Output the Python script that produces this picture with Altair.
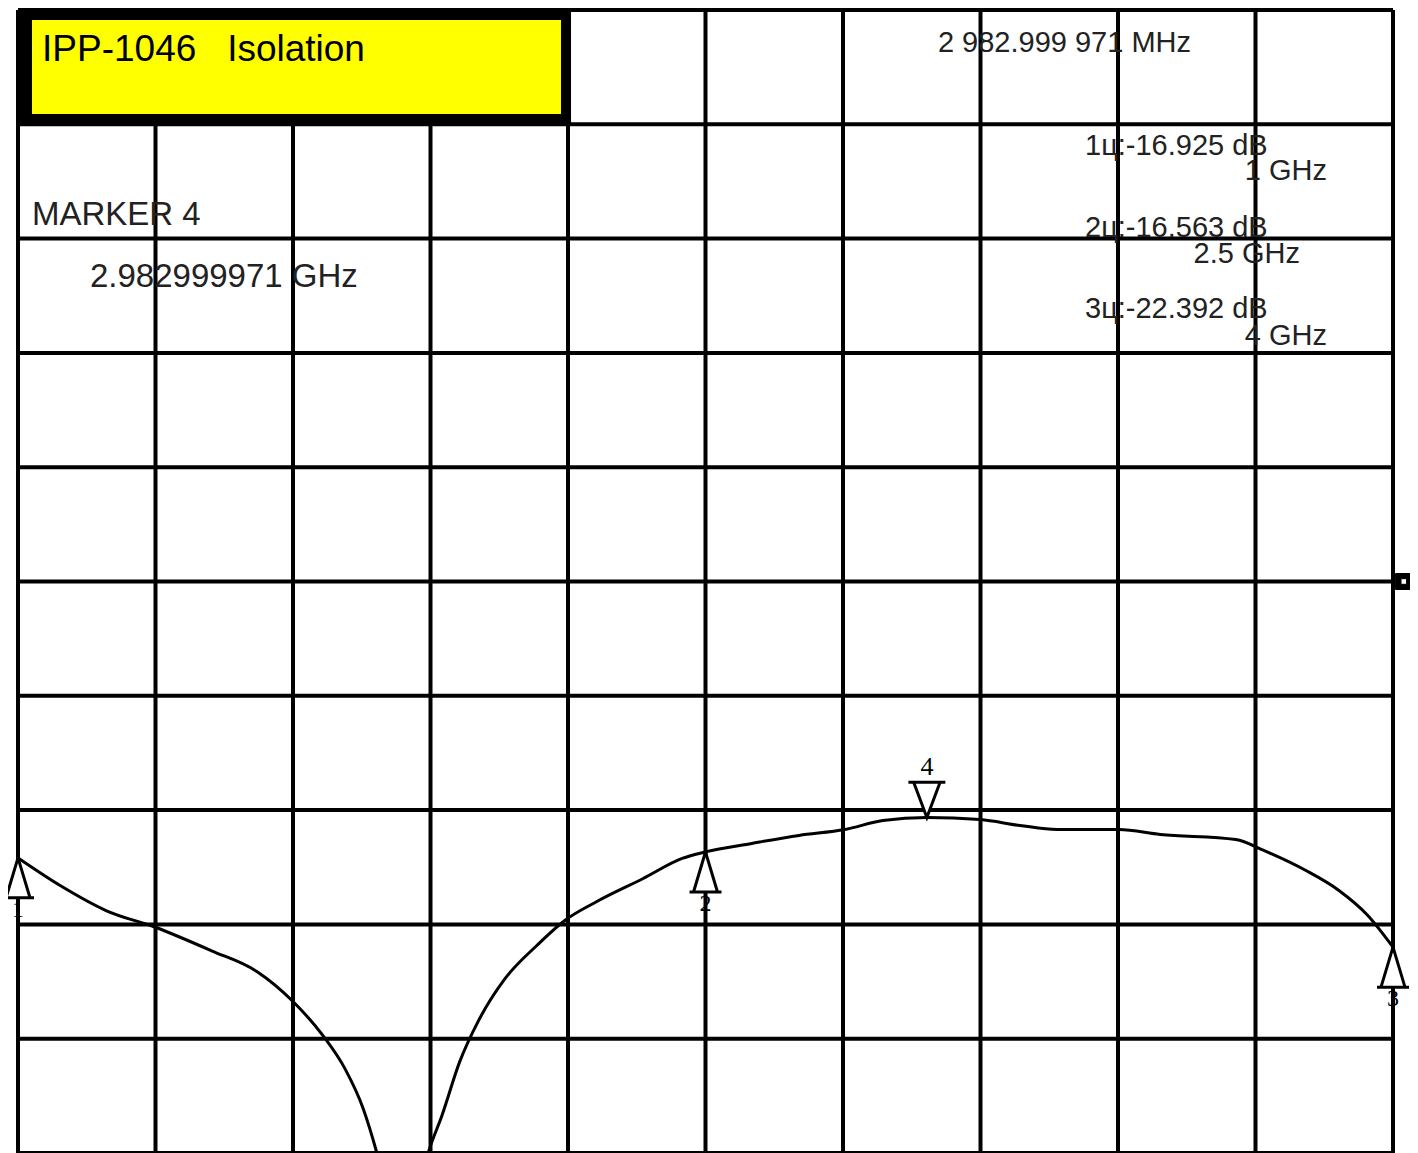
import altair as alt
import pandas as pd

# ---- data ----
freq_ghz = [1.000, 1.092, 1.192, 1.301, 1.421, 1.521, 1.600, 1.665, 1.713, 1.753, 1.783,
            1.840,
            1.895, 1.925, 1.964, 2.004, 2.063, 2.132, 2.193, 2.263, 2.364, 2.449, 2.500,
            2.601, 2.704, 2.804, 2.887, 2.983, 3.099, 3.186, 3.267, 3.402, 3.492, 3.657,
            3.718, 3.810, 3.882, 3.943, 4.000]
trace_db = [-16.93, -18.62, -20.15, -21.19, -22.60, -23.88, -25.72, -27.80, -29.82, -32.27, -35.0,
            -42.0,
            -35.0, -32.70, -29.39, -26.94, -24.31, -22.29, -20.76, -19.60, -18.19, -16.96, -16.56,
            -16.04, -15.55, -15.19, -14.64, -14.45, -14.58, -14.94, -15.19, -15.19, -15.49, -15.80,
            -16.47, -17.70, -18.92, -20.39, -22.39]

marker_freq = [1.0, 2.5, 4.0]
marker_db = [-16.925, -16.563, -22.392]
marker_label = ["1", "2", "3"]
m4_freq = [2.983]
m4_db = [-14.45]
m4_label = ["4"]

grid_x = [1.0, 1.3, 1.6, 1.9, 2.2, 2.5, 2.8, 3.1, 3.4, 3.7, 4.0]
grid_y = [35, 28, 21, 14, 7, 0, -7, -14, -21, -28, -35]

ann_text = ["2 982.999 971 MHz", "1\u0446:-16.925 dB", "2\u0446:-16.563 dB", "3\u0446:-22.392 dB"]
ann_x = [3.007, 3.328, 3.328, 3.328]
ann_y = [32.43, 26.12, 21.10, 16.14]

ann_l_text = ["MARKER 4", "2.982999971 GHz"]
ann_l_x = [1.0305, 1.157]
ann_l_y = [21.83, 18.04]

ann_r_text = ["1 GHz", "2.5 GHz", "4 GHz"]
ann_r_x = [3.856, 3.797, 3.856]
ann_r_y = [24.59, 19.51, 14.48]

title_text = ["IPP-1046\u00a0\u00a0\u00a0Isolation"]
title_x = [1.0524]
title_y = [31.88]

box_outer = dict(x=[1.0], x2=[2.2066], y=[28.0], y2=[35.0])
box_inner = dict(x=[1.0305], x2=[2.1847], y=[28.63], y2=[34.39])

ref_level = [0.0]

# ---- scales ----
xs = alt.Scale(domain=[1, 4], range=[0, 1375])
ys = alt.Scale(domain=[-35, 35], range=[1143, 0])

def X(f):
    return alt.X(f, type="quantitative", scale=xs, axis=None)

def Y(f):
    return alt.Y(f, type="quantitative", scale=ys, axis=None)

vgrid = alt.Chart(pd.DataFrame({"g": grid_x})).mark_rule(color="black", strokeWidth=4).encode(x=X("g"))
hgrid = alt.Chart(pd.DataFrame({"g": grid_y})).mark_rule(color="black", strokeWidth=4).encode(y=Y("g"))

outer = alt.Chart(pd.DataFrame(box_outer)).mark_rect(color="black").encode(
    x=X("x"), x2="x2", y=Y("y"), y2="y2")
inner = alt.Chart(pd.DataFrame(box_inner)).mark_rect(color="#ffff00").encode(
    x=X("x"), x2="x2", y=Y("y"), y2="y2")

title = alt.Chart(pd.DataFrame({"t": title_text, "x": title_x, "y": title_y})).mark_text(
    font="Liberation Sans", fontSize=37, align="left", baseline="alphabetic", color="black"
).encode(x=X("x"), y=Y("y"), text="t")

trace = alt.Chart(pd.DataFrame({"f": freq_ghz, "db": trace_db})).mark_line(
    color="black", strokeWidth=3, clip=True, interpolate="monotone"
).encode(x=X("f"), y=Y("db"), order=alt.Order("f", sort="ascending"))

up_path = "M0,0L0.3,1L-0.3,1Z M-0.4,1L0.4,1"
mk = pd.DataFrame({"f": marker_freq, "db": marker_db, "l": marker_label})
markers = alt.Chart(mk).mark_point(
    shape=up_path, size=6400, filled=True, fill="white", stroke="black", strokeWidth=3, opacity=1
).encode(x=X("f"), y=Y("db"))
marker_txt = alt.Chart(mk).mark_text(
    font="Liberation Serif", fontSize=24, baseline="top", dy=40, color="black"
).encode(x=X("f"), y=Y("db"), text="l")

down_path = "M0,0L0.3,-0.8L-0.3,-0.8Z M-0.42,-0.8L0.42,-0.8"
m4 = pd.DataFrame({"f": m4_freq, "db": m4_db, "l": m4_label})
marker4 = alt.Chart(m4).mark_point(
    shape=down_path, size=7744, filled=True, fill="white", stroke="black", strokeWidth=3, opacity=1
).encode(x=X("f"), y=Y("db"))
marker4_txt = alt.Chart(m4).mark_text(
    font="Liberation Serif", fontSize=26, baseline="alphabetic", dy=-42, color="black"
).encode(x=X("f"), y=Y("db"), text="l")

ref_path = "M0,0L0.3,0 M0.3,-1L2.2,-1L2.2,1L0.3,1Z M1.0,-0.35L1.0,0.35L1.7,0.35L1.7,-0.35Z"
refmark = alt.Chart(pd.DataFrame({"f": [4.0], "db": ref_level})).mark_point(
    shape=ref_path, size=256, filled=True, fill="black", stroke="black", strokeWidth=1, opacity=1
).encode(x=X("f"), y=Y("db"))

ann = alt.Chart(pd.DataFrame({"t": ann_text, "x": ann_x, "y": ann_y})).mark_text(
    font="Liberation Sans", fontSize=29, align="left", baseline="alphabetic", color="#222222"
).encode(x=X("x"), y=Y("y"), text="t")
ann_l = alt.Chart(pd.DataFrame({"t": ann_l_text, "x": ann_l_x, "y": ann_l_y})).mark_text(
    font="Liberation Sans", fontSize=33, align="left", baseline="alphabetic", color="#222222"
).encode(x=X("x"), y=Y("y"), text="t")
ann_r = alt.Chart(pd.DataFrame({"t": ann_r_text, "x": ann_r_x, "y": ann_r_y})).mark_text(
    font="Liberation Sans", fontSize=29, align="right", baseline="alphabetic", color="#222222"
).encode(x=X("x"), y=Y("y"), text="t")

chart = alt.layer(
    vgrid, hgrid, outer, inner, title, trace, markers, marker_txt, marker4, marker4_txt,
    refmark, ann, ann_l, ann_r
).properties(
    width=1375, height=1143,
    padding={"left": 10, "top": 2, "right": 17, "bottom": 0},
    autosize=alt.AutoSizeParams(type="none"),
    background="white",
).configure_view(stroke=None)

chart.save("out.html", embed_options={"renderer": "svg", "actions": False})
